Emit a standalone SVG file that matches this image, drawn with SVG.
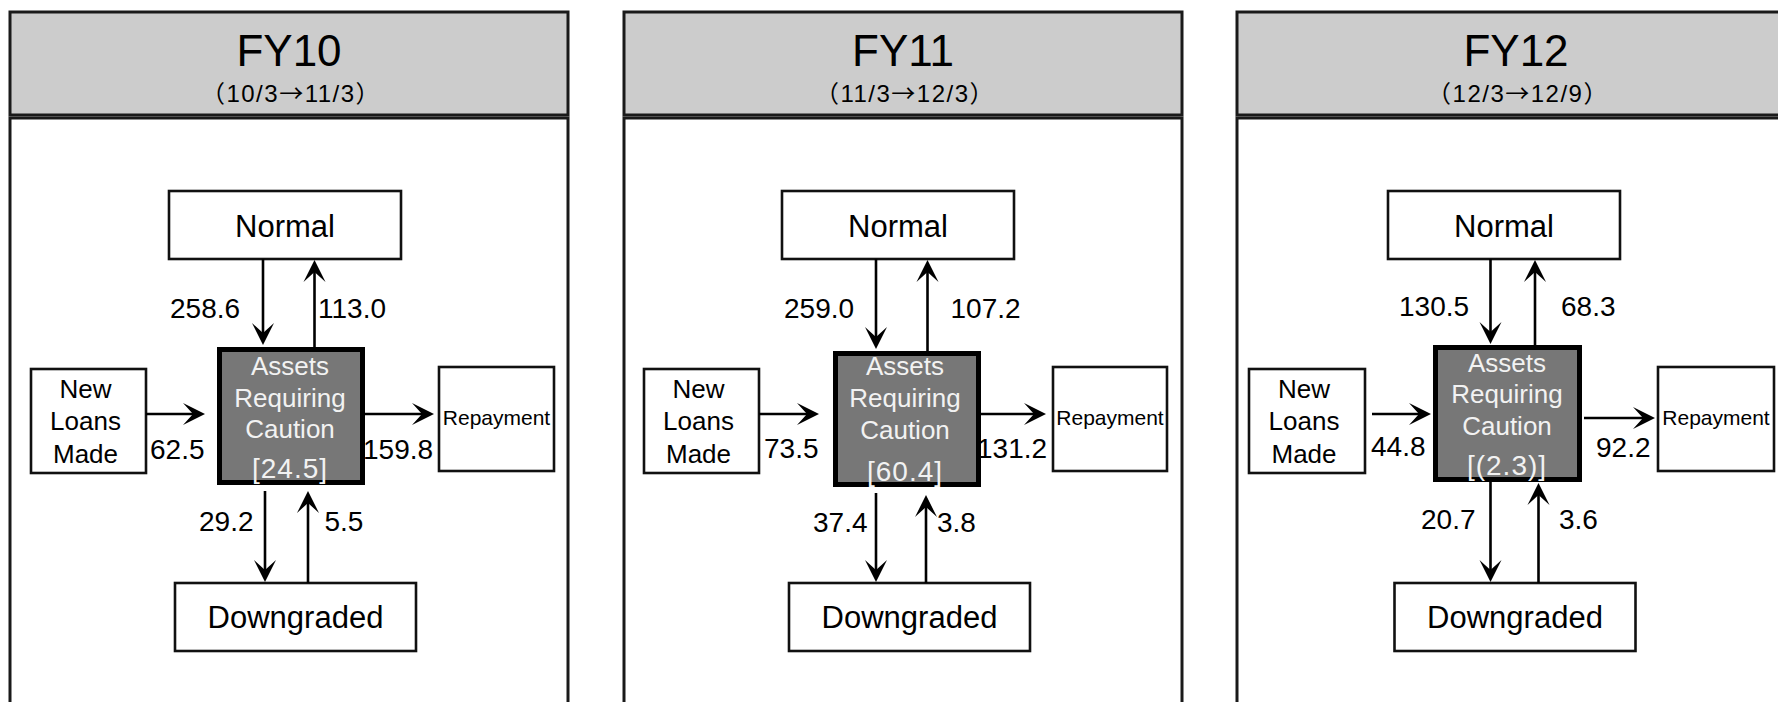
<svg xmlns="http://www.w3.org/2000/svg" width="1778" height="702" viewBox="0 0 1778 702">
<style>
.hdr{fill:#cccccc;stroke:#1a1a1a;stroke-width:3}
.body{fill:#ffffff;stroke:#1a1a1a;stroke-width:3}
.box{fill:#ffffff;stroke:#111111;stroke-width:2.6}
.key{fill:#777777;stroke:#000000;stroke-width:5}
.t{font-family:"Liberation Sans",Arial,sans-serif;fill:#000000}
.title{font-size:44px;text-anchor:middle}
.sub{font-family:"Liberation Sans","Noto Sans CJK JP",sans-serif;font-size:24px;letter-spacing:1.5px;text-anchor:middle}
.cjk{font-family:"Noto Sans CJK JP",sans-serif}
.lbl{font-size:31px;text-anchor:middle}
.num{font-size:28px}
.nl{font-size:26px;text-anchor:middle}
.rp{font-size:21px;text-anchor:middle}
.kt{font-family:"Liberation Sans",Arial,sans-serif;font-size:26px;text-anchor:middle;fill:#f2f2f2}
.br{font-size:28px}
.c{stroke:#000000;stroke-width:2.6;fill:none;marker-end:url(#ah)}
</style>
<defs>
<marker id="ah" viewBox="-23 -12 23 24" refX="-8" refY="0" markerWidth="23" markerHeight="24" markerUnits="userSpaceOnUse" orient="auto">
<path d="M0,0 L-22,-11 L-12,0 L-22,11 Z" fill="#000000"/>
</marker>
</defs>

<g id="panel-fy10">
<rect class="body" x="10" y="118" width="558" height="600"/>
<rect class="hdr" x="10" y="12" width="558" height="103"/>
<text class="t title" x="289" y="66">FY10</text>
<text class="t sub" x="291" y="102"><tspan class="cjk">（</tspan>10/3<tspan class="cjk">→</tspan>11/3<tspan class="cjk">）</tspan></text>
</g>
<g id="panel-fy11">
<rect class="body" x="624" y="118" width="558" height="600"/>
<rect class="hdr" x="624" y="12" width="558" height="103"/>
<text class="t title" x="903" y="66">FY11</text>
<text class="t sub" x="905" y="102"><tspan class="cjk">（</tspan>11/3<tspan class="cjk">→</tspan>12/3<tspan class="cjk">）</tspan></text>
</g>
<g id="panel-fy12">
<rect class="body" x="1237" y="118" width="558" height="600"/>
<rect class="hdr" x="1237" y="12" width="558" height="103"/>
<text class="t title" x="1516" y="66">FY12</text>
<text class="t sub" x="1518" y="102"><tspan class="cjk">（</tspan>12/3<tspan class="cjk">→</tspan>12/9<tspan class="cjk">）</tspan></text>
</g>

<!-- FY10 nodes -->
<g id="fy10-normal"><rect class="box" x="169" y="191" width="232" height="68"/><text class="t lbl" x="285" y="237">Normal</text></g>
<g id="fy10-assets"><rect class="key" x="219.5" y="349.5" width="143" height="133"/>
<text class="kt" x="290" y="375">Assets</text><text class="kt" x="290" y="407">Requiring</text><text class="kt" x="290" y="438">Caution</text><text class="kt br" x="290" y="478" letter-spacing="1">[24.5]</text></g>
<g id="fy10-new"><rect class="box" x="31" y="369" width="115" height="104"/>
<text class="t nl" x="85.5" y="398">New</text><text class="t nl" x="85.5" y="430">Loans</text><text class="t nl" x="85.5" y="463">Made</text></g>
<g id="fy10-repay"><rect class="box" x="439" y="367" width="115" height="104"/><text class="t rp" x="496.5" y="425">Repayment</text></g>
<g id="fy10-down"><rect class="box" x="175" y="583" width="241" height="68"/><text class="t lbl" x="295.5" y="628">Downgraded</text></g>

<!-- FY11 nodes -->
<g id="fy11-normal"><rect class="box" x="782" y="191" width="232" height="68"/><text class="t lbl" x="898" y="237">Normal</text></g>
<g id="fy11-assets"><rect class="key" x="835.5" y="353.5" width="143" height="131"/>
<text class="kt" x="905" y="375">Assets</text><text class="kt" x="905" y="407">Requiring</text><text class="kt" x="905" y="439">Caution</text><text class="kt br" x="905" y="481" letter-spacing="1">[60.4]</text></g>
<g id="fy11-new"><rect class="box" x="644" y="369" width="115" height="104"/>
<text class="t nl" x="698.5" y="398">New</text><text class="t nl" x="698.5" y="430">Loans</text><text class="t nl" x="698.5" y="463">Made</text></g>
<g id="fy11-repay"><rect class="box" x="1053" y="367" width="114" height="104"/><text class="t rp" x="1110" y="425">Repayment</text></g>
<g id="fy11-down"><rect class="box" x="789" y="583" width="241" height="68"/><text class="t lbl" x="909.5" y="628">Downgraded</text></g>

<!-- FY12 nodes -->
<g id="fy12-normal"><rect class="box" x="1388" y="191" width="232" height="68"/><text class="t lbl" x="1504" y="237">Normal</text></g>
<g id="fy12-assets"><rect class="key" x="1435.5" y="347.5" width="144" height="132"/>
<text class="kt" x="1507" y="372">Assets</text><text class="kt" x="1507" y="403">Requiring</text><text class="kt" x="1507" y="435">Caution</text><text class="kt br" x="1507" y="475" letter-spacing="1">[(2.3)]</text></g>
<g id="fy12-new"><rect class="box" x="1249" y="369" width="116" height="104"/>
<text class="t nl" x="1304" y="398">New</text><text class="t nl" x="1304" y="430">Loans</text><text class="t nl" x="1304" y="463">Made</text></g>
<g id="fy12-repay"><rect class="box" x="1658" y="367" width="116" height="104"/><text class="t rp" x="1716" y="425">Repayment</text></g>
<g id="fy12-down"><rect class="box" x="1394.5" y="583" width="241" height="68"/><text class="t lbl" x="1515" y="628">Downgraded</text></g>

<g id="connectors">
<!-- FY10 -->
<path class="c" d="M263,259 V337"/>
<path class="c" d="M314.5,347 V268"/>
<path class="c" d="M146,414 H197"/>
<path class="c" d="M365,414 H426"/>
<path class="c" d="M265,491 V574"/>
<path class="c" d="M308,583 V499"/>
<!-- FY11 -->
<path class="c" d="M876,259 V341"/>
<path class="c" d="M927.5,351 V268"/>
<path class="c" d="M759,414 H811"/>
<path class="c" d="M981,414 H1038"/>
<path class="c" d="M876,493 V574"/>
<path class="c" d="M926,583 V503"/>
<!-- FY12 -->
<path class="c" d="M1490.5,259 V336"/>
<path class="c" d="M1535,345 V268"/>
<path class="c" d="M1372,414 H1423"/>
<path class="c" d="M1584,418 H1647"/>
<path class="c" d="M1490.5,482 V574"/>
<path class="c" d="M1538.5,583 V491"/>
</g>

<g id="flow-labels">
<text class="t num" x="170" y="318">258.6</text>
<text class="t num" x="318" y="318">113.0</text>
<text class="t num" x="150" y="459">62.5</text>
<text class="t num" x="363" y="459">159.8</text>
<text class="t num" x="199" y="531">29.2</text>
<text class="t num" x="324.5" y="531">5.5</text>

<text class="t num" x="784" y="318">259.0</text>
<text class="t num" x="950.5" y="318">107.2</text>
<text class="t num" x="764" y="458">73.5</text>
<text class="t num" x="977" y="458">131.2</text>
<text class="t num" x="813" y="531.5">37.4</text>
<text class="t num" x="937" y="531.5">3.8</text>

<text class="t num" x="1399" y="316">130.5</text>
<text class="t num" x="1561" y="316">68.3</text>
<text class="t num" x="1371" y="456">44.8</text>
<text class="t num" x="1596" y="456.5">92.2</text>
<text class="t num" x="1421" y="529">20.7</text>
<text class="t num" x="1559" y="529">3.6</text>
</g>
</svg>
